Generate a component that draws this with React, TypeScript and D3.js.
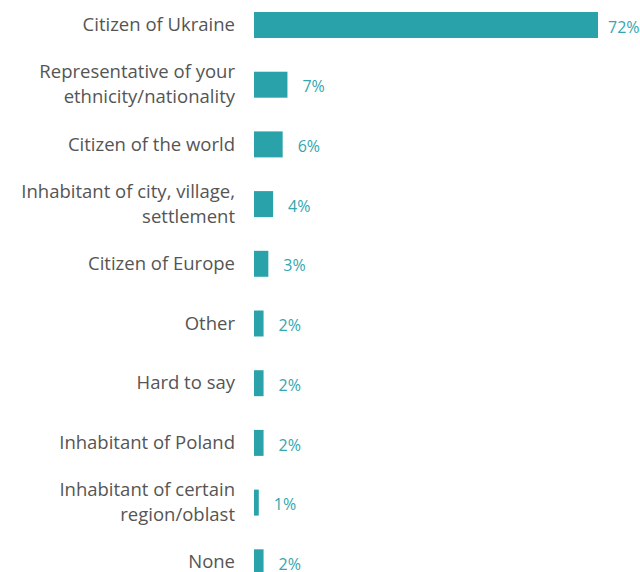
import React, { useEffect } from "react";
import * as d3 from "d3";

const categories: string[][] = [
  ["Citizen of Ukraine"],
  ["Representative of your", "ethnicity/nationality"],
  ["Citizen of the world"],
  ["Inhabitant of city, village,", "settlement"],
  ["Citizen of Europe"],
  ["Other"],
  ["Hard to say"],
  ["Inhabitant of Poland"],
  ["Inhabitant of certain", "region/oblast"],
  ["None"],
];
const values: number[] = [72, 7, 6, 4, 3, 2, 2, 2, 1, 2];
const valueLabels: string[] = ["72%", "7%", "6%", "4%", "3%", "2%", "2%", "2%", "1%", "2%"];

const W = 640;
const H = 572;
const BAR = "#2aa2a9";
const FONT = "'Open Sans', 'Noto Sans', sans-serif";

export default function App() {
  useEffect(() => {
    document.body.style.margin = "0";
  }, []);
  const idx = values.map((_, i) => String(i));
  const step = 59.7;
  const y = d3
    .scaleBand<string>()
    .domain(idx)
    .range([25 - step / 2, 25 - step / 2 + step * values.length])
    .paddingInner(0.565)
    .paddingOuter(0.2825);
  const x = d3.scaleLinear().domain([0, 72]).range([254, 598]);
  const lh = 25;
  return (
    <svg width={W} height={H} style={{ display: "block" }} fontFamily={FONT}>
      {values.map((v, i) => {
        const yb = y(String(i))!;
        const cy = yb + y.bandwidth() / 2;
        const lines = categories[i];
        const end = x(v);
        const labelX = Math.min(end + 15, W - 32);
        return (
          <g key={i}>
            <rect x={x(0)} y={yb} width={end - x(0)} height={y.bandwidth()} fill={BAR} />
            <text x={235} y={cy} textAnchor="end" fontSize={18.5} fill="#555555">
              {lines.map((l, j) => (
                <tspan key={j} x={235} y={cy + (j - (lines.length - 1) / 2) * lh} dy="0.33em">
                  {l}
                </tspan>
              ))}
            </text>
            <text x={labelX} y={cy + 2} dy="0.35em" fontSize={16} fill="#34a6ae">
              {valueLabels[i]}
            </text>
          </g>
        );
      })}
    </svg>
  );
}
